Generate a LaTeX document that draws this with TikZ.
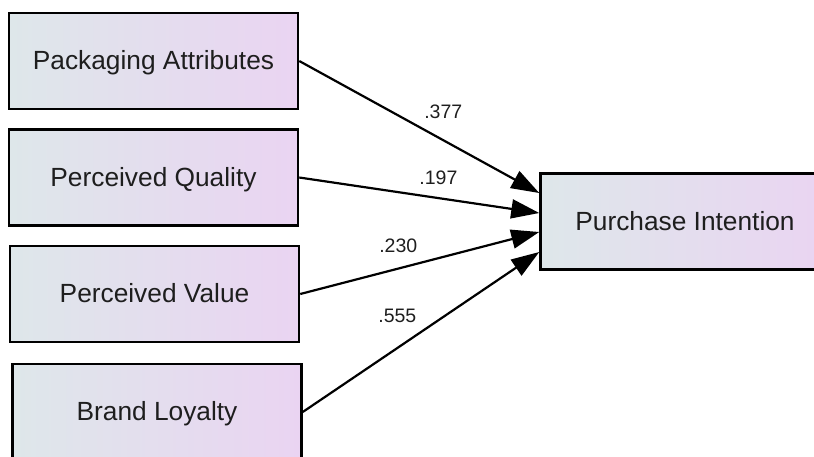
\documentclass[tikz,border=0pt]{standalone}
\usepackage{fontspec}
\setmainfont{Liberation Sans}
\usetikzlibrary{arrows.meta}
\definecolor{kastenlinks}{RGB}{222,231,234}
\definecolor{kastenrechts}{RGB}{234,212,242}
\definecolor{schrift}{RGB}{30,30,30}

\tikzset{
    kasten/.style={draw, line width=2.5pt, left color=kastenlinks, right color=kastenrechts,
        minimum width=289pt, minimum height=96pt, inner sep=0pt, text=schrift,
        text height=17pt, text depth=0pt, font=\fontsize{26.3}{30}\selectfont},
    pfeil/.style={line width=2.2pt, -{Triangle[length=28pt,width=19pt]}},
    wert/.style={inner sep=0pt, text=schrift, font=\fontsize{19.5}{22}\selectfont}
}

\begin{document}
\begin{tikzpicture}[x=1pt, y=-1pt]
    \clip (0,0) rectangle (814,456);
    \path node[kasten] (PA) at (153.5,61) {Packaging Attributes}
        node[kasten] (PQ) at (153.5,177.5) {Perceived Quality}
        node[kasten] (PV) at (154.5,294) {Perceived Value}
        node[kasten] (BL) at (157,412) {Brand Loyalty}
        node[kasten] (PI) at (685,221.5) {Purchase Intention};
       \draw[pfeil] (PA.east) -- node[wert, pos=.6, yshift=28pt] {.377} ([yshift=28.5pt]PI.west);
       \draw[pfeil] (PQ.east) -- node[wert, pos=.58, yshift=20pt] {.197} ([yshift=8.5pt]PI.west);
       \draw[pfeil] (PV.east) -- node[wert, pos=.41, yshift=23pt] {.230} ([yshift=-10.5pt]PI.west);
       \draw[pfeil] (BL.east) -- node[wert, pos=.4, yshift=32pt] {.555} ([yshift=-30.5pt]PI.west);
\end{tikzpicture}
\end{document}
